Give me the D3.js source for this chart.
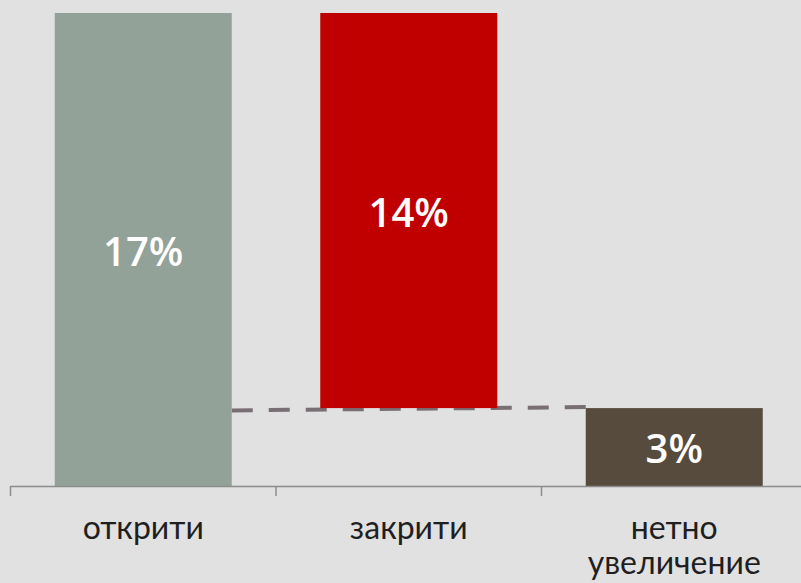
<!DOCTYPE html>
<html>
<head>
<meta charset="utf-8">
<title>Нетно увеличение</title>
<style>
  body { margin: 0; background: #e1e1e1; }
  svg { display: block; }
  .cat { font-family: Lato, "Open Sans", sans-serif; font-size: 32px; fill: #1f1f1f; }
  .val { font-family: "Open Sans", sans-serif; font-size: 40px; font-weight: 600; fill: #ffffff; }
</style>
</head>
<body>
<div id="chart"></div>
<script src="https://cdn.jsdelivr.net/npm/d3@7"></script>
<script>
  // data
  var categories = ['открити', 'закрити', 'нетно увеличение'];
  var changes = [17.0, -14.2, 2.8];
  var valueLabels = ['17%', '14%', '3%'];
  var barColors = ['#93a299', '#c00000', '#564b3c'];

  var width = 801, height = 583;
  var axisY = 486, topY = 13;
  var left = 10.5, step = 265.5;

  // build waterfall steps: start / end for each bar
  var bars = [];
  var running = 0;
  categories.forEach(function(c, i) {
    var start, end;
    if (i === categories.length - 1) { start = 0; end = changes[i]; }
    else { start = running; end = running + changes[i]; running = end; }
    bars.push({ cat: c, y0: Math.min(start, end), y1: Math.max(start, end), label: valueLabels[i], color: barColors[i] });
  });

  var x = d3.scaleBand()
      .domain(categories)
      .range([left, left + step * categories.length])
      .padding(0);

  var y = d3.scaleLinear()
      .domain([0, d3.max(bars, function(d) { return d.y1; })])
      .range([axisY, topY]);

  var barW = x.bandwidth() * 2 / 3;
  var barOff = (x.bandwidth() - barW) / 2;

  var svg = d3.select('#chart').append('svg')
      .attr('width', width)
      .attr('height', height);

  // dashed connector from first bar to net bar
  var net = bars[bars.length - 1];
  svg.append('line')
      .attr('x1', x(categories[0]) + barOff + barW)
      .attr('y1', y(net.y1) + 2.3)
      .attr('x2', x(net.cat) + barOff + 3)
      .attr('y2', y(net.y1) - 1)
      .attr('stroke', '#7a6e75')
      .attr('stroke-width', 4)
      .attr('stroke-dasharray', '21 16');

  svg.selectAll('rect.bar')
      .data(bars)
      .enter()
      .append('rect')
      .attr('class', 'bar')
      .attr('x', function(d) { return x(d.cat) + barOff; })
      .attr('width', barW)
      .attr('y', function(d) { return y(d.y1); })
      .attr('height', function(d) { return y(d.y0) - y(d.y1); })
      .attr('fill', function(d) { return d.color; });

  svg.selectAll('text.val')
      .data(bars)
      .enter()
      .append('text')
      .attr('class', 'val')
      .attr('text-anchor', 'middle')
      .attr('x', function(d) { return x(d.cat) + x.bandwidth() / 2; })
      .attr('y', function(d) { return (y(d.y0) + y(d.y1)) / 2; })
      .attr('dy', '0.41em')
      .text(function(d) { return d.label; });

  // category axis with ticks between bands
  var axis = svg.append('g');
  axis.append('line')
      .attr('x1', left).attr('x2', width + 10)
      .attr('y1', axisY + 0.5).attr('y2', axisY + 0.5)
      .attr('stroke', '#8c8c8c').attr('stroke-width', 1.5);
  axis.selectAll('line.tick')
      .data(categories)
      .enter()
      .append('line')
      .attr('class', 'tick')
      .attr('x1', function(d) { return x(d); })
      .attr('x2', function(d) { return x(d); })
      .attr('y1', axisY).attr('y2', axisY + 10)
      .attr('stroke', '#8c8c8c').attr('stroke-width', 1.5);

  // one text per line so long labels wrap like the original
  categories.forEach(function(d) {
    d.split(' ').forEach(function(w, i) {
      axis.append('text')
          .attr('class', 'cat')
          .attr('text-anchor', 'middle')
          .attr('x', x(d) + x.bandwidth() / 2)
          .attr('y', 539 + i * 35)
          .text(w);
    });
  });
</script>
</body>
</html>
